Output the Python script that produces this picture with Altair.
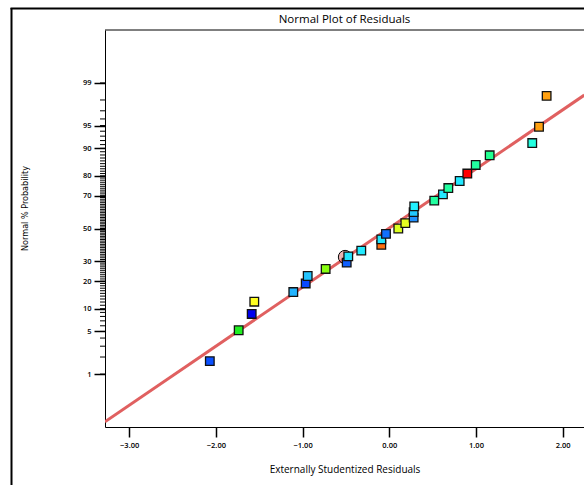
import altair as alt
import pandas as pd
from statistics import NormalDist

# ---- data ----
resid = [-2.07, -1.737, -1.587, -1.557, -1.107, -0.964, -0.941, -0.734, -0.491, -0.473,
         -0.323, -0.092, -0.092, -0.038, 0.104, 0.185, 0.281, 0.281, 0.288, 0.519,
         0.619, 0.681, 0.812, 0.900, 0.997, 1.158, 1.649, 1.727, 1.815]
prob = [1.7, 5.2, 8.6, 12.1, 15.5, 19.0, 22.4, 25.9, 29.3, 32.8,
        36.2, 39.7, 43.1, 46.6, 50.0, 53.4, 56.9, 60.3, 63.8, 67.2,
        70.7, 74.1, 77.6, 81.0, 84.5, 87.9, 91.4, 94.8, 98.3]
colors = ["#0a50ff", "#22ee22", "#0000ee", "#ffff22", "#22b4ff", "#0a48ff", "#22c4ff", "#88ff11",
          "#1060ff", "#22e4ff", "#22eaff", "#ff7010", "#22e8ff", "#1070ff", "#ddff22", "#e6ff22",
          "#2090ff", "#22c8ff", "#22f0ff", "#22ffa0", "#22e8ff", "#22ffa0", "#22e8ff", "#ff0000",
          "#22ffa0", "#22ff90", "#22ffe0", "#ffa010", "#ffa010"]

fit_x = [-3.28, 2.25]
fit_prob = [0.10, 98.35]

circle_x = [-0.51]
circle_prob = [32.4]

major_ticks = [1, 5, 10, 20, 30, 50, 70, 80, 90, 95, 99]
minor_ticks = list(range(1, 100))
x_ticks = [-3, -2, -1, 0, 1, 2]

chart_title = ["Normal Plot of Residuals"]

nd = NormalDist()
def z(p):
    return nd.inv_cdf(p / 100.0)

W, H = 479, 397
XDOM = [-3.279, 2.246]
YDOM = [-3.172, 3.172]

pts = pd.DataFrame({"r": resid, "z": [z(p) for p in prob], "c": colors})
fit = pd.DataFrame({"r": fit_x, "z": [z(p) for p in fit_prob]})
circ = pd.DataFrame({"r": circle_x, "z": [z(p) for p in circle_prob]})
minor = pd.DataFrame({"z": [z(p) for p in minor_ticks]})

major_z = [z(p) for p in major_ticks]
label_expr = ""
for p, zz in zip(major_ticks, major_z):
    label_expr += f"abs(datum.value - ({zz:.5f})) < 0.001 ? '{p}' : "
label_expr += "''"

xscale = alt.Scale(domain=XDOM, nice=False, zero=False)
yscale = alt.Scale(domain=YDOM, nice=False, zero=False)

xaxis = alt.Axis(values=x_ticks, format=".2f", title="Externally Studentized Residuals",
                 tickCount=20,
                 grid=False, tickSize=10, tickWidth=1.5, tickColor="black",
                 domainColor="black", domainWidth=1, labelFont="Open Sans", labelFontSize=7.5,
                 labelFontWeight=600,
                 labelColor="black", labelPadding=4, labelOverlap=False,
                 titleFont="Open Sans", titleFontSize=10,
                 titleFontWeight="normal", titleColor="black", titlePadding=16)
yaxis = alt.Axis(values=major_z, labelExpr=label_expr, title="Normal % Probability",
                 tickCount=40,
                 grid=False, tickSize=11, tickWidth=1.5, tickColor="black",
                 domainColor="black", domainWidth=1, labelFont="Open Sans", labelFontSize=7.5,
                 labelFontWeight=600,
                 labelColor="black", labelPadding=3, labelOverlap=False, labelBound=False,
                 titleFont="DejaVu Sans Condensed",
                 titleFontSize=9, titleFontWeight="normal", titleColor="black",
                 titleX=-76, titleY=178)

line = alt.Chart(fit).mark_line(color="#e06060", strokeWidth=3, clip=True).encode(
    x=alt.X("r:Q", scale=xscale, axis=xaxis),
    y=alt.Y("z:Q", scale=yscale, axis=yaxis),
)

circle = alt.Chart(circ).mark_point(shape="circle", size=180, filled=True, fill="#e08080",
                                     fillOpacity=0.6, stroke="black", strokeWidth=1,
                                     strokeOpacity=1).encode(
    x=alt.X("r:Q", scale=xscale), y=alt.Y("z:Q", scale=yscale))

points = alt.Chart(pts).mark_point(shape="square", size=74, filled=True, opacity=1,
                                   stroke="#111111", strokeWidth=1.3).encode(
    x=alt.X("r:Q", scale=xscale), y=alt.Y("z:Q", scale=yscale),
    fill=alt.Color("c:N", scale=None),
)

minor_rules = alt.Chart(minor).mark_rule(color="black", strokeWidth=1).encode(
    x=alt.value(-5), x2=alt.value(0), y=alt.Y("z:Q", scale=yscale))

one = pd.DataFrame({"a": [0]})
top_frame = alt.Chart(one).mark_rule(color="black", strokeWidth=1).encode(
    x=alt.value(0), x2=alt.value(W + 5), y=alt.value(0))
outer_left = alt.Chart(one).mark_rule(color="black", strokeWidth=2).encode(
    x=alt.value(-93.5), y=alt.value(-22), y2=alt.value(H + 70))
outer_top = alt.Chart(one).mark_rule(color="black", strokeWidth=2).encode(
    x=alt.value(-94.5), x2=alt.value(W + 5), y=alt.value(-21.5))

title_text = alt.Chart(pd.DataFrame({"t": chart_title})).mark_text(
    font="Open Sans", fontSize=11.5, color="black", align="center", baseline="alphabetic"
).encode(x=alt.value(W / 2), y=alt.value(-7), text="t:N")

chart = alt.layer(line, circle, points, minor_rules, top_frame, outer_left, outer_top,
                  title_text).properties(
    width=W, height=H,
    autosize=alt.AutoSizeParams(type="none"),
    padding={"left": 105, "top": 30, "right": 0, "bottom": 58},
    background="white",
).configure_view(stroke=None)

chart.save("out.html", embed_options={"renderer": "svg", "actions": False})
